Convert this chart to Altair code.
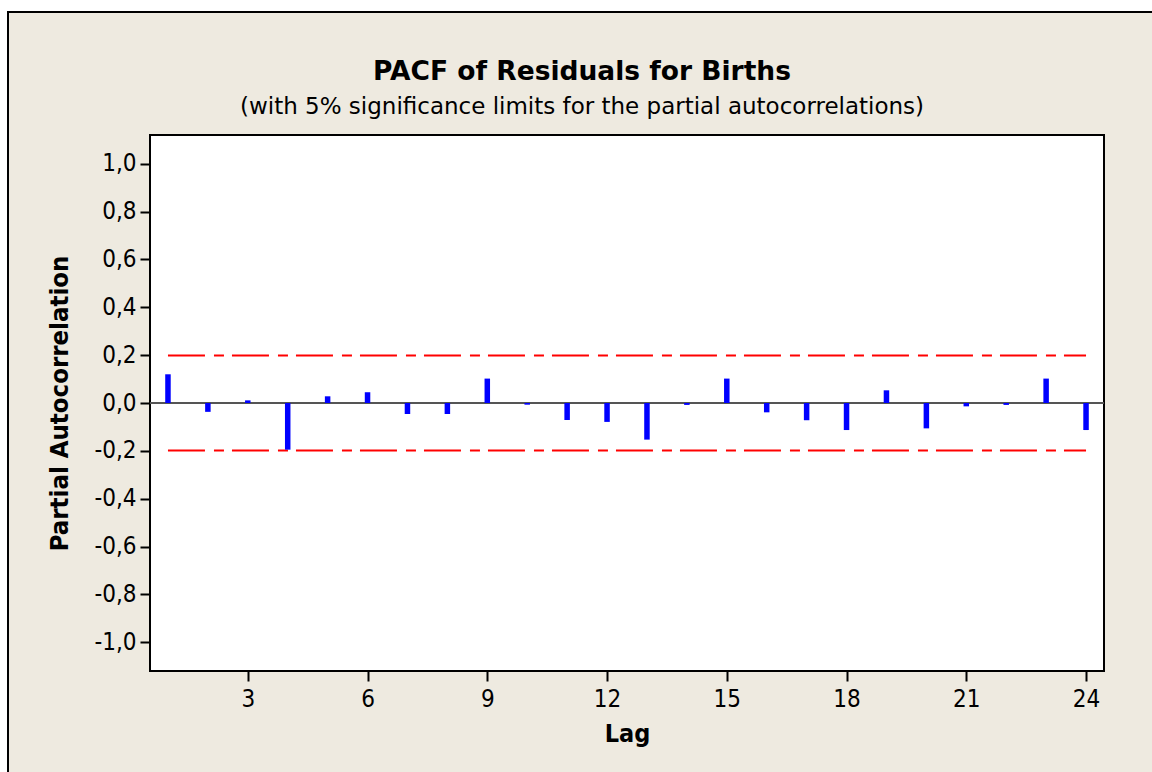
import altair as alt
import pandas as pd

# ---- data ----
lags = list(range(1, 25))
pacf = [0.120, -0.037, 0.011, -0.195, 0.028, 0.045, -0.046, -0.046, 0.102, -0.007,
        -0.071, -0.079, -0.153, -0.008, 0.102, -0.039, -0.072, -0.113, 0.053, -0.106,
        -0.014, -0.008, 0.102, -0.113]
limit_upper = 0.199
limit_lower = -0.199
y_ticks = [-1.0, -0.8, -0.6, -0.4, -0.2, 0.0, 0.2, 0.4, 0.6, 0.8, 1.0]
x_ticks = [3, 6, 9, 12, 15, 18, 21, 24]

FONT = "DejaVu Sans Condensed, DejaVu Sans"
TFONT = "DejaVu Sans"
W, H = 954, 536

bars_df = pd.DataFrame({"lag": lags, "pacf": pacf, "zero": [0.0] * len(lags)})
limits_df = pd.DataFrame({"start": [lags[0], lags[0]], "end": [lags[-1], lags[-1]],
                          "limit": [limit_upper, limit_lower]})
zero_df = pd.DataFrame({"v": [0.0]})
one = pd.DataFrame({"a": [0]})

xscale = alt.Scale(domain=[0.55, 24.45], nice=False, zero=False)
yscale = alt.Scale(domain=[-1.12, 1.12], nice=False, zero=False)

label_expr = "(datum.value < 0 ? '-' : '') + replace(format(abs(datum.value), '.1f'), '.', ',')"

x_axis = alt.Axis(values=x_ticks, title="Lag", labelFontSize=24, titleFontSize=25,
                  titleFontWeight="bold", labelFont=FONT, titleFont=FONT,
                  tickSize=10, tickWidth=2, tickColor="black", domain=False,
                  labelColor="black", titleColor="black", labelPadding=6,
                  titlePadding=10, grid=False, labelFlush=False)
y_axis = alt.Axis(values=y_ticks, title="Partial Autocorrelation", labelFontSize=24,
                  titleFontSize=25.5, titleFontWeight="bold", labelFont=FONT, titleFont=FONT,
                  tickSize=10, tickWidth=2, tickColor="black", domain=False,
                  labelColor="black", titleColor="black", labelPadding=4,
                  titlePadding=21, grid=False, labelExpr=label_expr, labelFlush=False)

# decoration: white margin strips and the outer frame of the picture
strip_top = alt.Chart(one).mark_rect(color="white").encode(
    x=alt.value(-150), x2=alt.value(1010), y=alt.value(-140), y2=alt.value(-124))
strip_left = alt.Chart(one).mark_rect(color="white").encode(
    x=alt.value(-150), x2=alt.value(-143), y=alt.value(-140), y2=alt.value(640))
frame_top = alt.Chart(one).mark_rule(color="black", strokeWidth=2).encode(
    x=alt.value(-143), x2=alt.value(1010), y=alt.value(-123))
frame_left = alt.Chart(one).mark_rule(color="black", strokeWidth=2).encode(
    x=alt.value(-142), y=alt.value(-124), y2=alt.value(640))

zero_line = alt.Chart(zero_df).mark_rule(color="#555555", strokeWidth=2).encode(
    y=alt.Y("v:Q", scale=yscale, axis=y_axis))

limit_lines = alt.Chart(limits_df).mark_rule(
    color="#FF0000", strokeWidth=2, strokeDash=[37, 9, 10, 8]).encode(
    x=alt.X("start:Q", scale=xscale, axis=x_axis),
    x2="end:Q",
    y=alt.Y("limit:Q", scale=yscale, axis=y_axis))

bars = alt.Chart(bars_df).mark_rule(color="#0000FF", strokeWidth=5.5).encode(
    x=alt.X("lag:Q", scale=xscale, axis=x_axis),
    y=alt.Y("zero:Q", scale=yscale, axis=y_axis),
    y2="pacf:Q")

chart = alt.layer(strip_top, strip_left, frame_top, frame_left,
                  zero_line, limit_lines, bars).properties(
    width=W, height=H,
    autosize=alt.AutoSizeParams(type="none"),
    padding={"left": 150, "top": 135, "right": 48, "bottom": 101},
    background="#EEEAE0",
    title=alt.TitleParams(
        text="PACF of Residuals for Births",
        subtitle="(with 5% significance limits for the partial autocorrelations)",
        anchor="middle", frame="group", dx=-45, offset=-124,
        font=TFONT, fontSize=26.5, fontWeight="bold", color="black",
        subtitleFont=TFONT, subtitleFontSize=23, subtitleColor="black",
        subtitlePadding=11),
).configure_view(fill="white", stroke="black", strokeWidth=2)

chart.save("out.html", embed_options={"renderer": "svg", "actions": False})
